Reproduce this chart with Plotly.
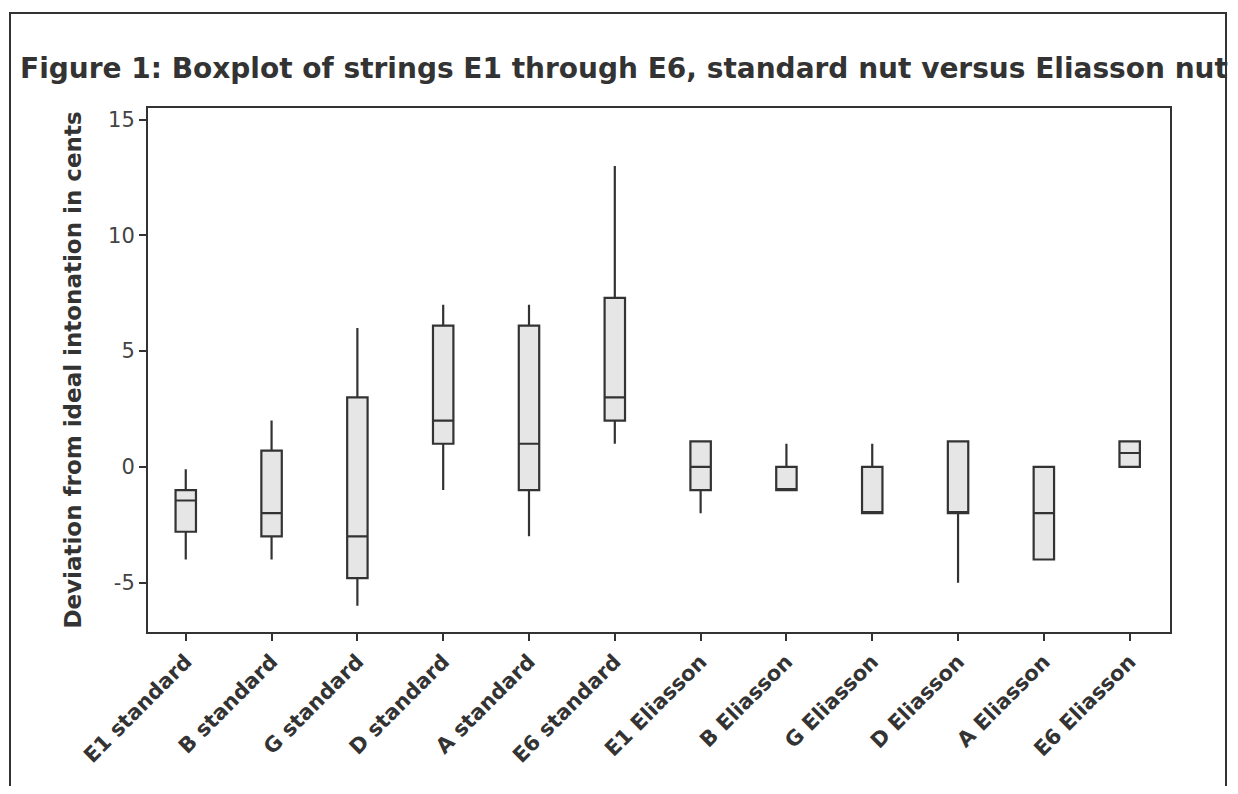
import plotly.graph_objects as go

categories = ["E1 standard", "B standard", "G standard", "D standard", "A standard", "E6 standard",
              "E1 Eliasson", "B Eliasson", "G Eliasson", "D Eliasson", "A Eliasson", "E6 Eliasson"]
lower_whisker = [-4.0, -4.0, -6.0, -1.0, -3.0, 1.0, -2.0, -1.0, -2.0, -5.0, -4.0, 0.0]
q1_values     = [-2.8, -3.0, -4.8, 1.0, -1.0, 2.0, -1.0, -1.0, -2.0, -2.0, -4.0, 0.0]
median_values = [-1.45, -2.0, -3.0, 2.0, 1.0, 3.0, 0.0, -1.0, -2.0, -2.0, -2.0, 0.6]
q3_values     = [-1.0, 0.7, 3.0, 6.1, 6.1, 7.3, 1.1, 0.0, 0.0, 1.1, 0.0, 1.1]
upper_whisker = [-0.1, 2.0, 6.0, 7.0, 7.0, 13.0, 1.1, 1.0, 1.0, 1.1, 0.0, 1.1]
y_ticks = [-5, 0, 5, 10, 15]
y_tick_labels = ["-5", "0", "5", "10", "15"]

# page has an 8px body margin; figure coordinates = page coordinates - 8
OFF = 8
W, H = 1238 - 2 * OFF, 794 - 2 * OFF
L = 148 - OFF
T = 108 - OFF
R = W - (1170 - OFF)
B = H - (632 - OFF)

fig = go.Figure()
fig.add_trace(go.Box(
    x=categories,
    q1=q1_values, median=median_values, q3=q3_values,
    lowerfence=lower_whisker, upperfence=upper_whisker,
    fillcolor="#e6e6e6",
    line=dict(color="#333333", width=2.2),
    whiskerwidth=0,
    boxpoints=False,
    showlegend=False,
    hoverinfo="skip",
))

pw = W - L - R
ph = H - T - B
def px(x):
    return (x - OFF - L) / pw
def py(y):
    return (H - B - (y - OFF)) / ph

fig.add_shape(type="path",
              path=f"M {px(10)} {py(800)} L {px(10)} {py(13)} L {px(1226)} {py(13)} L {px(1226)} {py(800)}",
              xref="paper", yref="paper", line=dict(color="#333333", width=2))

fig.update_layout(
    width=W, height=H,
    margin=dict(l=L, r=R, t=T, b=B),
    paper_bgcolor="white", plot_bgcolor="white",
    boxgap=0.66,
    title=dict(text="Figure 1: Boxplot of strings E1 through E6, standard nut versus Eliasson nut",
               x=(20 - OFF) / W, xanchor="left", xref="container",
               y=1 - (68 - OFF) / H, yanchor="middle", yref="container",
               font=dict(family="DejaVu Sans", size=28, color="#333333", weight="bold")),
    font=dict(family="DejaVu Sans", color="#333333"),
)
fig.update_xaxes(
    type="category",
    range=[-0.44, 11.47],
    showline=True, linecolor="#333333", linewidth=2, mirror=True,
    ticks="outside", ticklen=7, tickcolor="#333333", tickwidth=1.5,
    tickangle=-45,
    tickfont=dict(family="DejaVu Sans", size=21, color="#333333", weight="bold"),
    showgrid=False, zeroline=False,
)
fig.update_yaxes(
    range=[-7.13, 15.5],
    tickvals=y_ticks, ticktext=y_tick_labels,
    showline=True, linecolor="#333333", linewidth=2, mirror=True,
    ticks="outside", ticklen=7, tickcolor="#333333", tickwidth=1.5,
    tickfont=dict(family="DejaVu Sans", size=21, color="#444444"),
    title=dict(text="Deviation from ideal intonation in cents",
               font=dict(family="DejaVu Sans", size=23, color="#333333", weight="bold"),
               standoff=20),
    showgrid=False, zeroline=False,
)

fig.write_html("out.html")
